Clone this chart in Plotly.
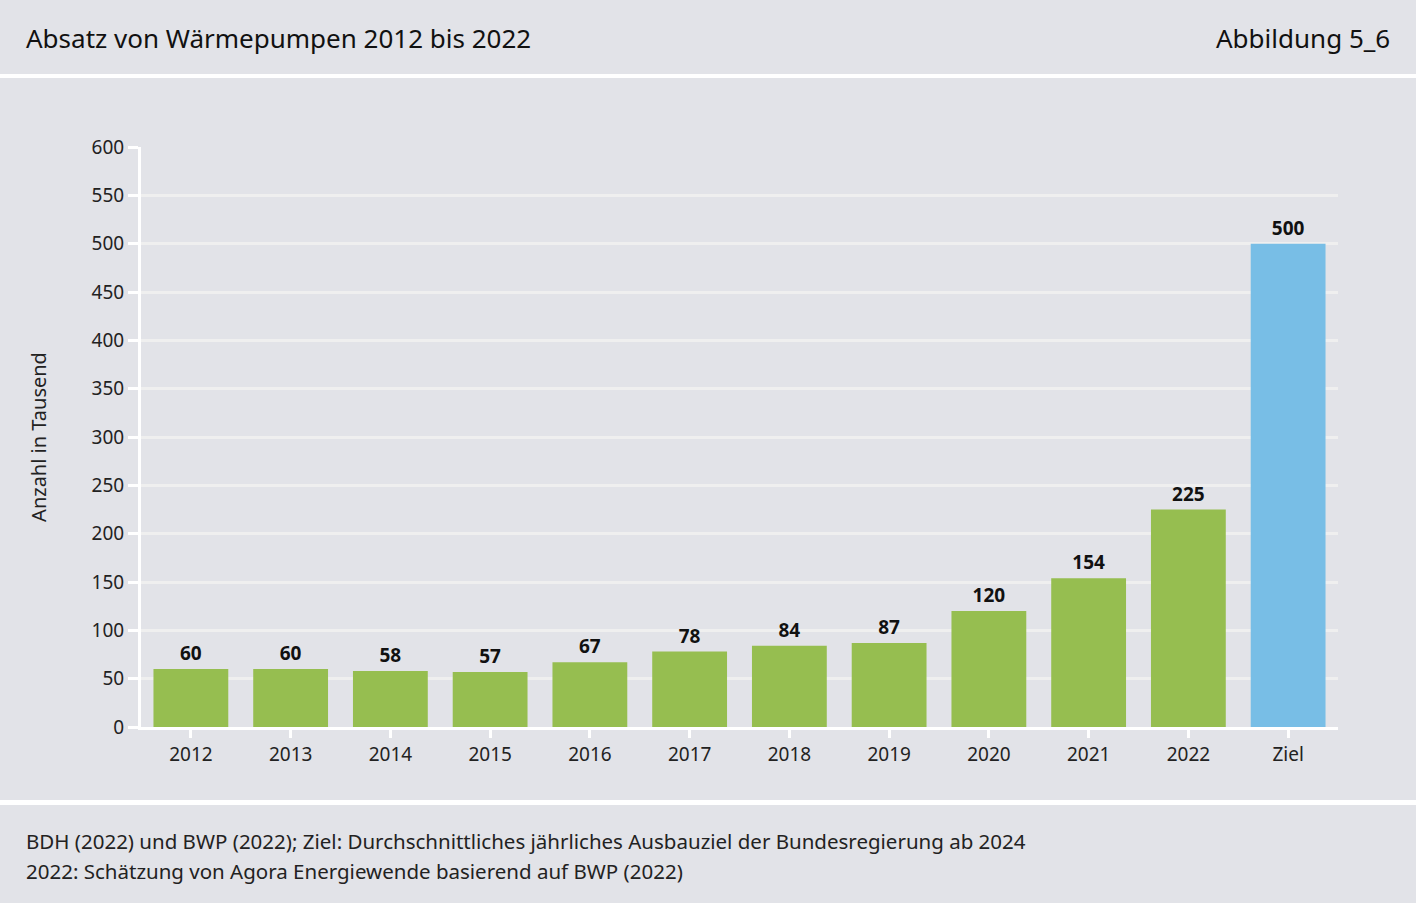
import plotly.graph_objects as go

# Absatz von Wärmepumpen (in Tausend)
jahre = ["2012", "2013", "2014", "2015", "2016", "2017", "2018", "2019", "2020", "2021", "2022", "Ziel"]
absatz = [60, 60, 58, 57, 67, 78, 84, 87, 120, 154, 225, 500]
farben = ["#96be50"] * 11 + ["#78bee6"]

W, H = 1416, 903
L, R, T, B = 141, 78, 147, 176
plot_h = H - T - B
plot_w = W - L - R


def py(ypix):
    # pixel y -> paper coords
    return (H - B - ypix) / plot_h


def px(xpix):
    return (xpix - L) / plot_w


font = "Noto Sans"
bg = "#e2e3e8"

fig = go.Figure()

fig.add_trace(go.Bar(
    x=jahre,
    y=absatz,
    marker=dict(color=farben, line=dict(width=0)),
    text=absatz,
    textposition="outside",
    texttemplate="<b>%{text}</b>",
    textfont=dict(size=19, color="#111111", family=font),
    cliponaxis=False,
    hoverinfo="x+y"
))

shapes = [
    dict(type="rect", xref="paper", yref="paper", x0=px(0), x1=px(W), y0=py(78), y1=py(74),
         fillcolor="white", line=dict(width=0), layer="below"),
    dict(type="rect", xref="paper", yref="paper", x0=px(0), x1=px(W), y0=py(805), y1=py(800),
         fillcolor="white", line=dict(width=0), layer="below"),
]

annotations = [
    dict(text="Absatz von Wärmepumpen 2012 bis 2022", x=px(24), y=py(38), xref="paper", yref="paper",
         xanchor="left", yanchor="middle", showarrow=False, font=dict(size=26, color="#111111", family=font)),
    dict(text="Abbildung 5_6", x=px(1392), y=py(38), xref="paper", yref="paper",
         xanchor="right", yanchor="middle", showarrow=False, font=dict(size=26, color="#111111", family=font)),
    dict(text="BDH (2022) und BWP (2022); Ziel: Durchschnittliches jährliches Ausbauziel der Bundesregierung ab 2024",
         x=px(24), y=py(841), xref="paper", yref="paper", xanchor="left", yanchor="middle",
         showarrow=False, font=dict(size=20.5, color="#222222", family=font)),
    dict(text="2022: Schätzung von Agora Energiewende basierend auf BWP (2022)",
         x=px(24), y=py(871), xref="paper", yref="paper", xanchor="left", yanchor="middle",
         showarrow=False, font=dict(size=20.5, color="#222222", family=font)),
]

fig.update_layout(
    width=W,
    height=H,
    margin=dict(l=L, r=R, t=T, b=B),
    paper_bgcolor=bg,
    plot_bgcolor=bg,
    bargap=0.25,
    showlegend=False,
    shapes=shapes,
    annotations=annotations,
    font=dict(family=font, color="#222222"),
    xaxis=dict(
        type="category",
        range=[-0.5, 11.5],
        showline=True, linecolor="white", linewidth=3,
        ticks="outside", tickcolor="white", ticklen=8, tickwidth=3,
        tickfont=dict(size=19, color="#222222"),
        showgrid=False,
    ),
    yaxis=dict(
        range=[0, 600],
        dtick=50,
        showline=True, linecolor="white", linewidth=3,
        ticks="outside", tickcolor="white", ticklen=10, tickwidth=3,
        tickfont=dict(size=19, color="#222222"),
        gridcolor="#efefef", gridwidth=3,
        zeroline=False,
        title=dict(text="Anzahl in Tausend", font=dict(size=20, color="#222222"), standoff=40),
    ),
)

fig.write_html(
    "out.html",
    config={"displayModeBar": False},
    post_script="document.body.style.margin='0';document.body.style.background='#e2e3e8';"
)
